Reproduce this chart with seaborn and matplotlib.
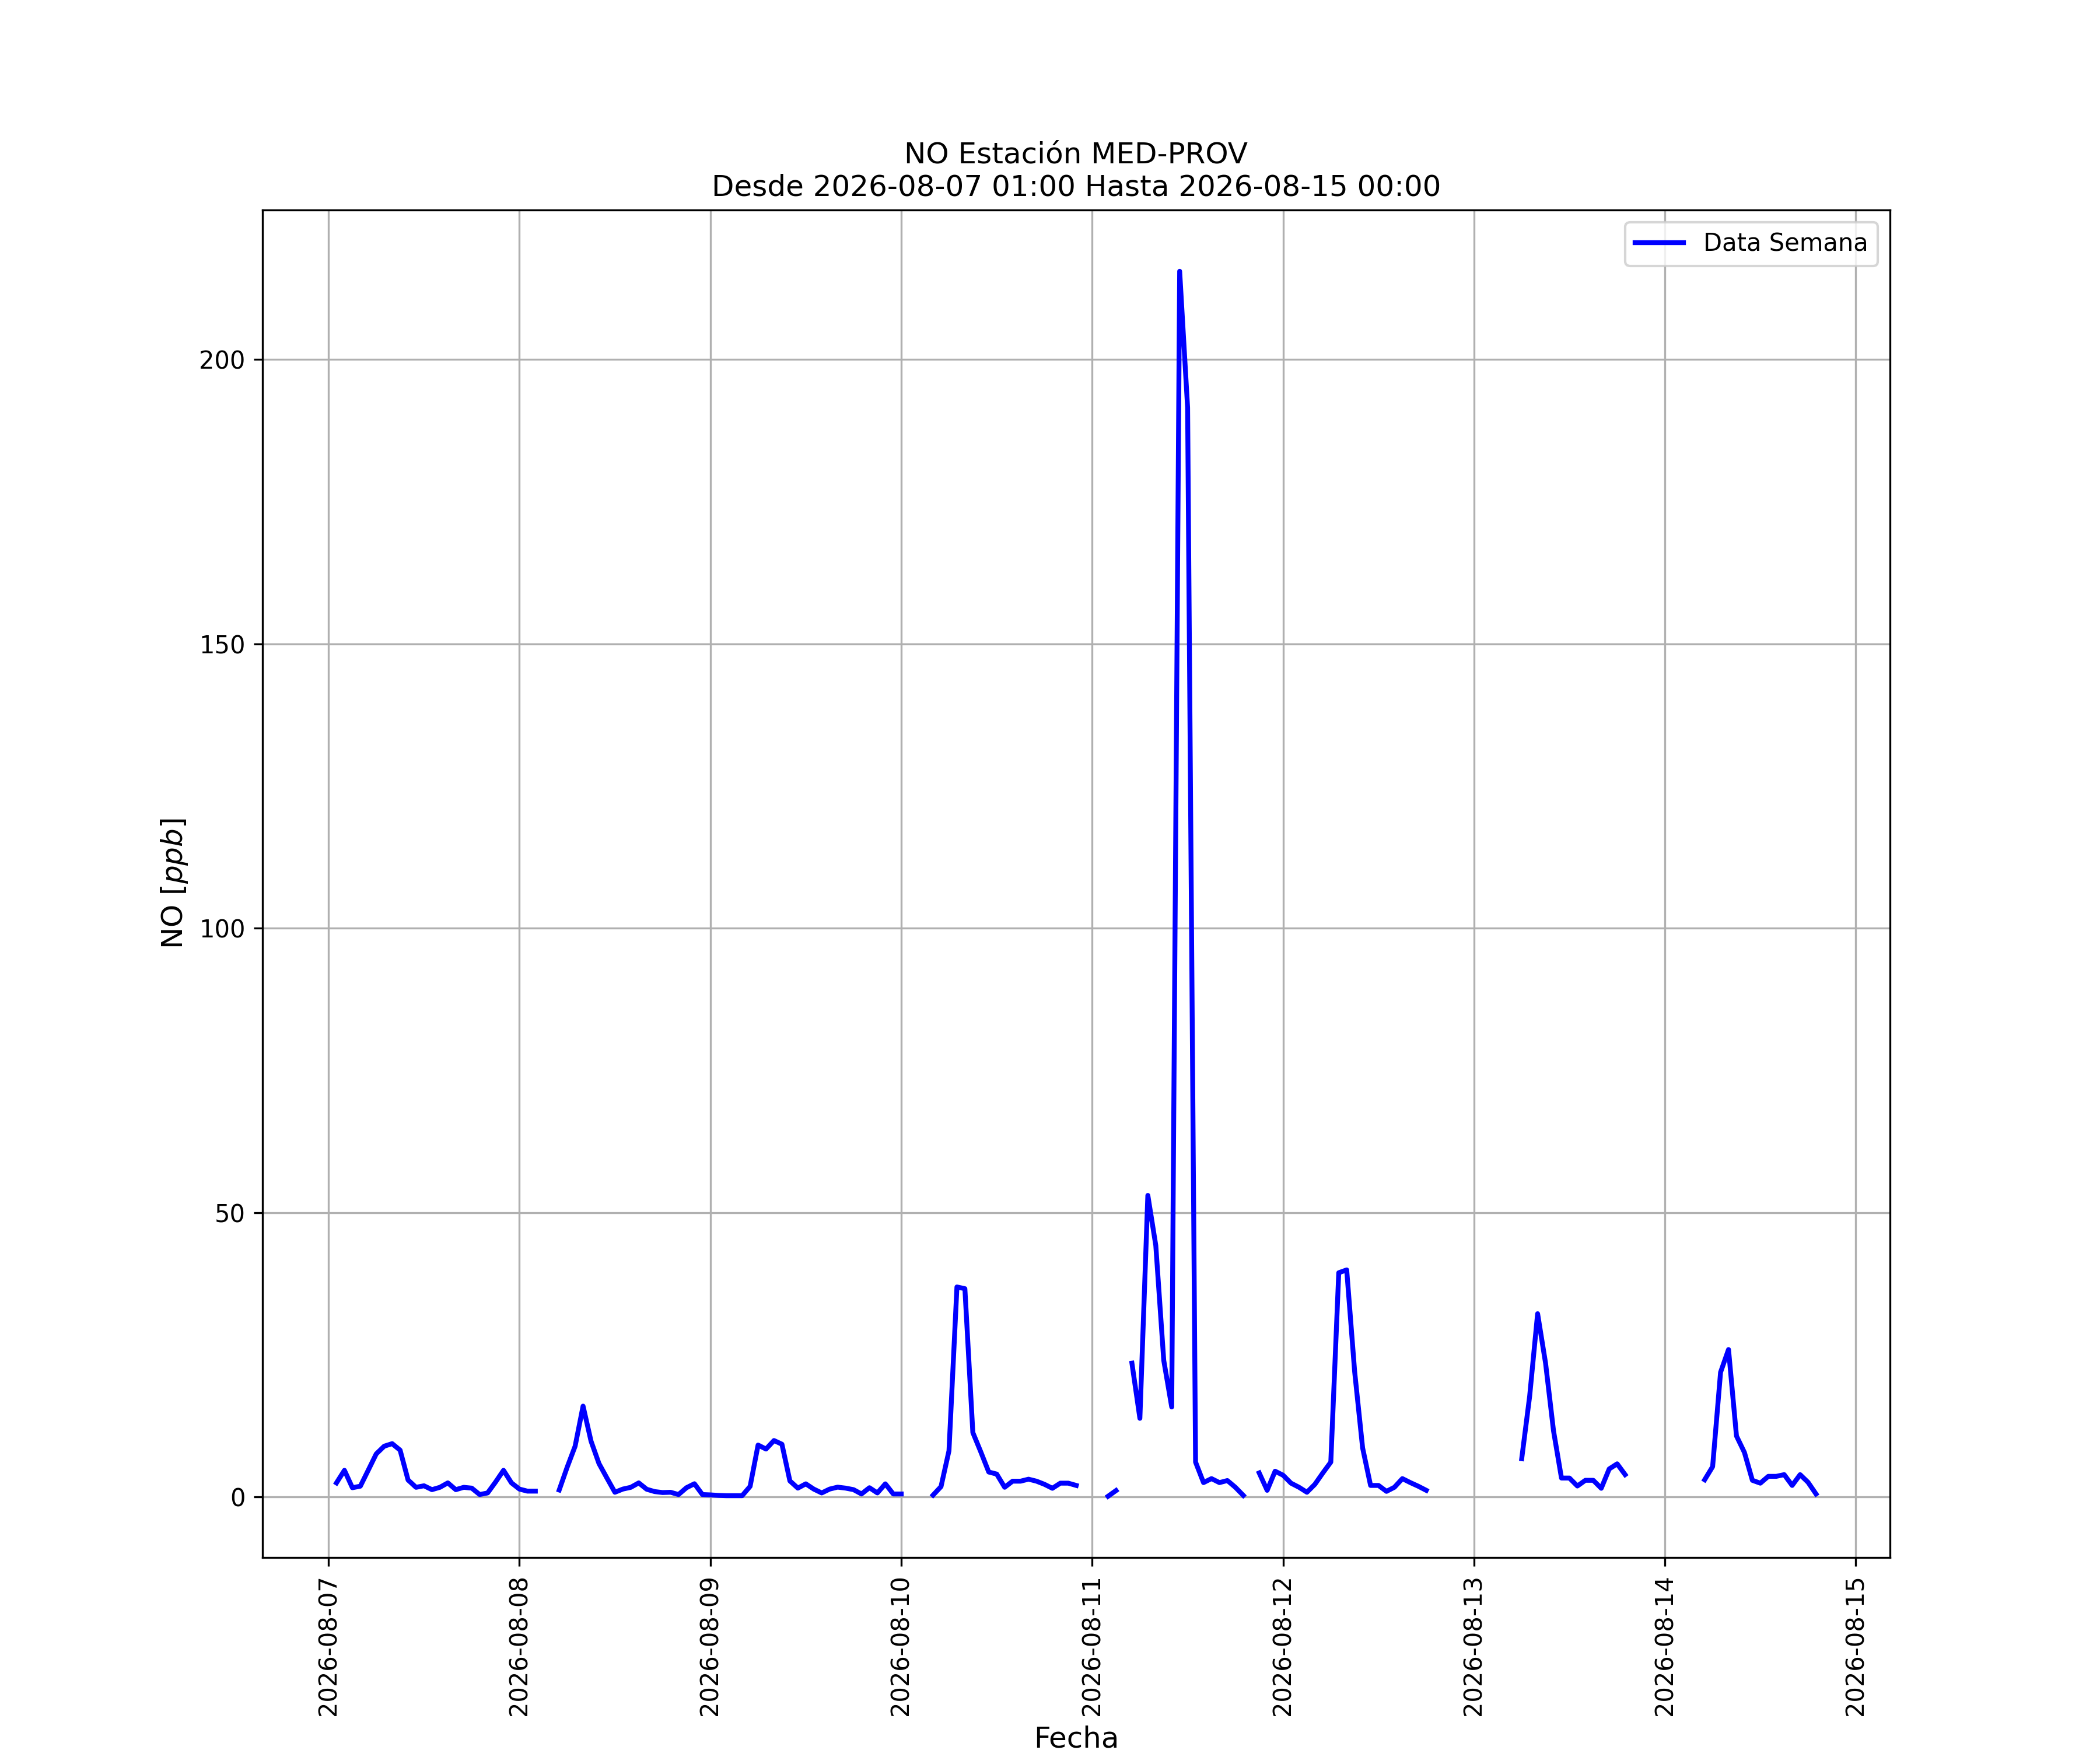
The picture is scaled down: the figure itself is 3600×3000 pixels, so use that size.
# -*- coding: utf-8 -*-
"""
Serie horaria de NO en la estacion MED-PROV (una semana).
"""
import numpy as np
import pandas as pd
import matplotlib
matplotlib.use("Agg")
import matplotlib.pyplot as plt
import matplotlib.dates as mdates
import seaborn as sns

nan = np.nan

# --- Datos horarios de NO [ppb] ---
inicio = "2026-08-07 01:00"
fin = "2026-08-15 00:00"

# 2026-08-07, horas 01..23
no_ago07 = [2.45, 4.66, 1.6, 1.87, 4.7, 7.55, 8.9, 9.35, 8.2, 2.96, 1.67, 1.94,
            1.26, 1.67, 2.45, 1.26, 1.67, 1.53, 0.4, 0.68, 2.6, 4.66, 2.45]
# 2026-08-08 .. 2026-08-14, horas 00..23
no_ago08 = [1.36, 1.0, 1.0, nan, nan, 1.2, 5.2, 8.9, 15.95, 9.8, 5.85, 3.3,
            0.8, 1.36, 1.67, 2.45, 1.33, 0.92, 0.75, 0.8, 0.4, 1.6, 2.3, 0.4]
no_ago09 = [0.34, 0.25, 0.2, 0.2, 0.2, 1.84, 9.1, 8.4, 9.9, 9.25, 2.8, 1.53,
            2.28, 1.36, 0.68, 1.36, 1.7, 1.53, 1.26, 0.5, 1.6, 0.68, 2.28, 0.5]
no_ago10 = [0.5, nan, nan, nan, 0.3, 1.8, 8.1, 36.9, 36.6, 11.3, 7.9, 4.36,
            4.0, 1.68, 2.75, 2.75, 3.1, 2.75, 2.2, 1.5, 2.4, 2.4, 2.0, nan]
no_ago11 = [nan, nan, 0.1, 1.1, nan, 23.5, 13.8, 53.0, 44.2, 24.0, 15.8, 215.5,
            191.5, 6.1, 2.5, 3.2, 2.5, 2.86, 1.68, 0.25, nan, 4.2, 1.14, 4.5]
no_ago12 = [3.8, 2.4, 1.68, 0.8, 2.2, 4.2, 6.1, 39.4, 39.9, 22.0, 8.6, 2.0,
            2.0, 0.96, 1.68, 3.2, 2.5, 1.86, 1.14, nan, nan, nan, nan, nan]
no_ago13 = [nan, nan, nan, nan, nan, nan, 6.7, 17.7, 32.2, 23.5, 11.6, 3.3,
            3.3, 1.9, 2.9, 2.9, 1.5, 4.9, 5.8, 3.9, nan, nan, nan, nan]
no_ago14 = [nan, nan, nan, nan, nan, 3.0, 5.3, 21.9, 25.9, 10.7, 7.8, 2.9,
            2.4, 3.6, 3.6, 3.9, 2.0, 3.9, 2.55, 0.5, nan, nan, nan, nan]
# 2026-08-15 00:00
no_ago15 = [nan]


def crear_grafico():
    valores = (no_ago07 + no_ago08 + no_ago09 + no_ago10 + no_ago11
               + no_ago12 + no_ago13 + no_ago14 + no_ago15)
    fechas = pd.date_range(inicio, fin, freq="h")
    df = pd.DataFrame({"Fecha": fechas, "NO": valores})

    # seaborn une los huecos, asi que cada tramo sin NaN es una unidad aparte
    df["tramo"] = df["NO"].isna().cumsum()
    df = df.dropna(subset=["NO"])

    fig, ax = plt.subplots(figsize=(12, 10), dpi=300)
    sns.lineplot(data=df, x="Fecha", y="NO", units="tramo", estimator=None,
                 color="blue", linewidth=2, label="Data Semana", ax=ax)

    ax.set_title(f"NO Estación MED-PROV\nDesde {inicio} Hasta {fin}", fontsize=12)
    ax.set_xlabel("Fecha", fontsize=12)
    ax.set_ylabel("NO [$ppb$]", fontsize=12)
    ax.xaxis.set_major_locator(mdates.DayLocator())
    ax.xaxis.set_major_formatter(mdates.DateFormatter("%Y-%m-%d"))
    plt.xticks(rotation=90)
    ax.grid(True)

    handles, labels = ax.get_legend_handles_labels()
    ax.legend(handles[:1], labels[:1], loc="upper right")

    fig.savefig("out.png")
    plt.close(fig)


if __name__ == "__main__":
    crear_grafico()
